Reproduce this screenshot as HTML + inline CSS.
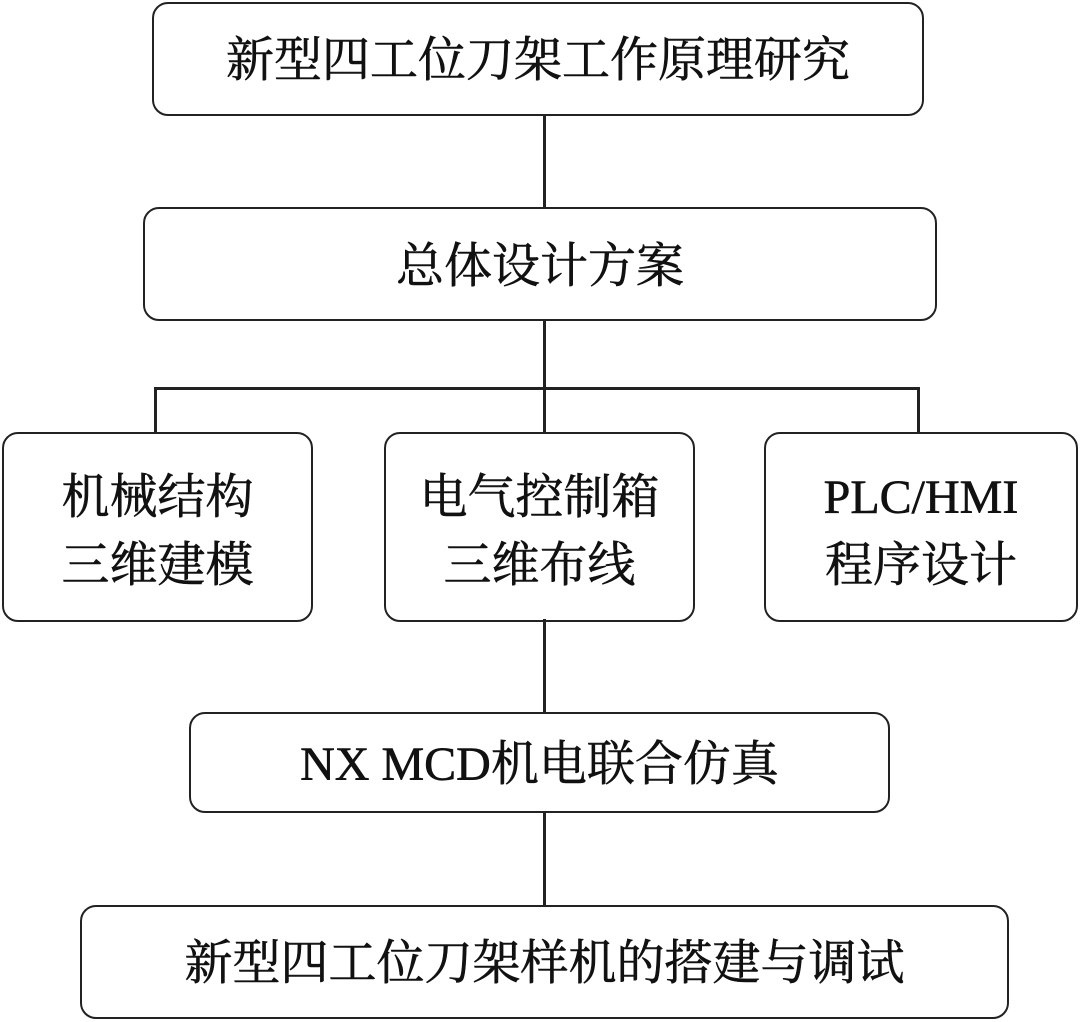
<!DOCTYPE html>
<html><head><meta charset="utf-8"><style>
body{margin:0;width:1080px;height:1022px;background:#fff;position:relative;overflow:hidden;font-family:"Liberation Serif","Noto Serif CJK SC",serif;}
.b{position:absolute;border:2.5px solid #222;border-radius:16px;box-sizing:border-box;display:flex;align-items:center;justify-content:center;text-align:center;font-size:48px;line-height:68px;color:#111;-webkit-text-stroke:0.6px #111;}
.l{position:absolute;background:#222;}
</style></head><body>
<div class="l" style="left:543px;top:114px;width:2.5px;height:94px"></div>
<div class="l" style="left:543px;top:319px;width:2.5px;height:114px"></div>
<div class="l" style="left:154px;top:387px;width:765px;height:2.5px"></div>
<div class="l" style="left:154px;top:387px;width:2.5px;height:46px"></div>
<div class="l" style="left:917px;top:387px;width:2.5px;height:46px"></div>
<div class="l" style="left:543px;top:619px;width:2.5px;height:94px"></div>
<div class="l" style="left:543px;top:811px;width:2.5px;height:95px"></div>
<div class="b" style="left:152px;top:2px;width:772px;height:114px;padding-top:4px">新型四工位刀架工作原理研究</div>
<div class="b" style="left:143px;top:207px;width:794px;height:114px;padding-top:6px">总体设计方案</div>
<div class="b" style="left:2px;top:432px;width:311px;height:190px;padding-top:10px">机械结构<br>三维建模</div>
<div class="b" style="left:384px;top:432px;width:311px;height:190px;padding-top:10px">电气控制箱<br>三维布线</div>
<div class="b" style="left:764px;top:432px;width:314px;height:190px;padding-top:10px">PLC/HMI<br>程序设计</div>
<div class="b" style="left:189px;top:712px;width:701px;height:101px;padding-top:4px">NX MCD机电联合仿真</div>
<div class="b" style="left:80px;top:905px;width:929px;height:114px;padding-top:4px">新型四工位刀架样机的搭建与调试</div>
</body></html>
